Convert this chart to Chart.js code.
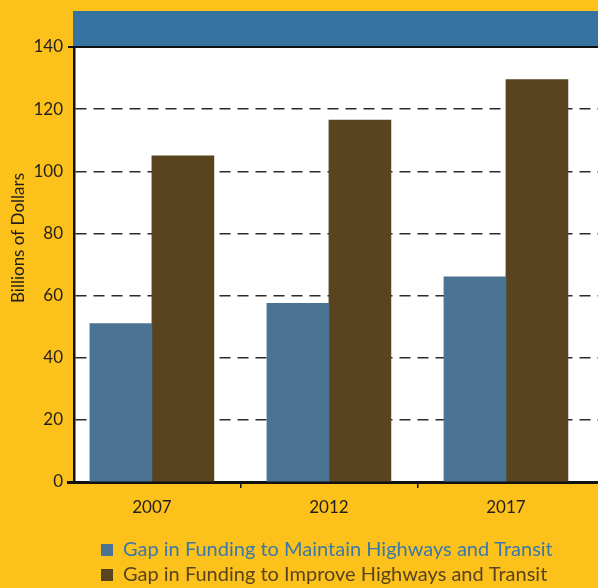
<!DOCTYPE html>
<html>
<head>
<meta charset="utf-8">
<script src="https://cdn.jsdelivr.net/npm/chart.js@4.4.1/dist/chart.umd.min.js"></script>
<style>
	html, body { margin: 0; padding: 0; background: #fcc21b; }
	#wrap { width: 598px; height: 588px; }
</style>
</head>
<body>
<div id="wrap"><canvas id="gap-chart" width="598" height="588"></canvas></div>
<script>
	'use strict';

	// data
	var years = ['2007', '2012', '2017'];
	var maintainGap = [51, 57.5, 66];
	var improveGap = [105, 116.5, 129.5];
	var yTicks = [0, 20, 40, 60, 80, 100, 120, 140];
	var seriesNames = [
		'Gap in Funding to Maintain Highways and Transit',
		'Gap in Funding to Improve Highways and Transit'
	];
	var yTitle = 'Billions of Dollars';

	var fontFamily = 'Lato, "Noto Sans", sans-serif';
	var textColor = '#231f20';
	var blueBar = '#4a7394';
	var brownBar = '#5a4420';
	var legendColors = ['#3a78ab', '#5a4420'];

	// bars sit on x = 0, 1, 2 (one per year)
	function toPoints(values) {
		return values.map(function(v, i) { return { x: i, y: v }; });
	}

	// ticks on the years carry the labels, ticks halfway carry the little marks
	var xTicks = [];
	years.forEach(function(y, i) {
		xTicks.push(i);
		if (i < years.length - 1) xTicks.push(i + 0.5);
	});

	// yellow page, blue band above the plot, white plot area, frame bits
	var panelPlugin = {
		id: 'panel',
		beforeDraw: function(chart) {
			var ctx = chart.ctx;
			var a = chart.chartArea;
			ctx.save();
			ctx.fillStyle = '#fcc21b';
			ctx.fillRect(0, 0, chart.width, chart.height);
			ctx.fillStyle = '#3673a0';
			ctx.fillRect(a.left - 1, 11, a.right - a.left + 1, a.top - 11);
			ctx.fillStyle = '#ffffff';
			ctx.fillRect(a.left, a.top, a.right - a.left, a.bottom - a.top);
			ctx.restore();
		},
		afterDraw: function(chart) {
			var ctx = chart.ctx;
			var a = chart.chartArea;
			ctx.save();
			ctx.strokeStyle = '#111111';
			ctx.lineWidth = 2;
			ctx.beginPath();
			ctx.moveTo(a.left - 6, a.top);
			ctx.lineTo(a.right, a.top);
			ctx.stroke();
			ctx.lineWidth = 3;
			ctx.beginPath();
			ctx.moveTo(a.left - 7, a.bottom + 0.5);
			ctx.lineTo(a.left, a.bottom + 0.5);
			ctx.stroke();

			// y axis title, rotated
			ctx.translate(19, 238);
			ctx.rotate(-Math.PI / 2);
			ctx.fillStyle = textColor;
			ctx.font = '17px ' + fontFamily;
			ctx.textAlign = 'center';
			ctx.textBaseline = 'middle';
			ctx.fillText(yTitle, 0, 0);
			ctx.restore();
		},
		afterLayout: function(chart) {
			// legend block sits indented and a little lower
			if (chart.legend) {
				chart.legend.left = 96;
				chart.legend.top += 8;
				chart.legend.bottom += 8;
			}
		}
	};

	var ctx = document.getElementById('gap-chart');

	var gapChart = new Chart(ctx, {
		type: 'bar',
		data: {
			datasets: [
				{ label: seriesNames[0], data: toPoints(maintainGap), backgroundColor: blueBar },
				{ label: seriesNames[1], data: toPoints(improveGap), backgroundColor: brownBar }
			]
		},
		plugins: [panelPlugin],
		options: {
			responsive: false,
			animation: false,
			barThickness: 62,
			layout: {
				padding: { top: 47, right: 0, left: 0, bottom: 1 }
			},
			plugins: {
				tooltip: { enabled: false },
				legend: {
					position: 'bottom',
					align: 'start',
					labels: {
						boxWidth: 12,
						boxHeight: 12,
						padding: 5,
						font: { family: fontFamily, size: 20 },
						generateLabels: function(chart) {
							return chart.data.datasets.map(function(ds, i) {
								return {
									text: ds.label,
									fillStyle: ds.backgroundColor,
									strokeStyle: ds.backgroundColor,
									lineWidth: 0,
									fontColor: legendColors[i],
									datasetIndex: i
								};
							});
						}
					}
				}
			},
			scales: {
				x: {
					type: 'linear',
					offset: false,
					min: -0.44,
					max: 2.52,
					afterBuildTicks: function(scale) {
						scale.ticks = xTicks.map(function(v) { return { value: v }; });
					},
					grid: {
						offset: false,
						drawOnChartArea: false,
						drawTicks: true,
						tickLength: 6,
						color: function(c) {
							if (c.tick && c.tick.value % 1 === 0) return 'rgba(0,0,0,0)';
							return '#111111';
						},
						lineWidth: 1.5
					},
					border: { display: true, color: '#111111', width: 3 },
					ticks: {
						color: textColor,
						padding: 9,
						autoSkip: false,
						maxRotation: 0,
						font: { family: fontFamily, size: 17 },
						callback: function(value) {
							return value % 1 === 0 ? years[value] : '';
						}
					},
					afterFit: function(scale) {
						scale.height = 45;
					}
				},
				y: {
					min: 0,
					max: 140,
					afterBuildTicks: function(scale) {
						scale.ticks = yTicks.map(function(v) { return { value: v }; });
					},
					grid: {
						drawTicks: false,
						color: function(c) {
							if (c.tick && (c.tick.value === 0 || c.tick.value === 140)) return 'rgba(0,0,0,0)';
							return '#2a2a2a';
						},
						lineWidth: 1.5
					},
					border: { display: true, color: '#111111', width: 2.5, dash: [11, 7] },
					ticks: {
						color: textColor,
						padding: 11,
						font: { family: fontFamily, size: 17 }
					},
					afterFit: function(scale) {
						scale.width = 74;
					}
				}
			}
		}
	});
</script>
</body>
</html>
